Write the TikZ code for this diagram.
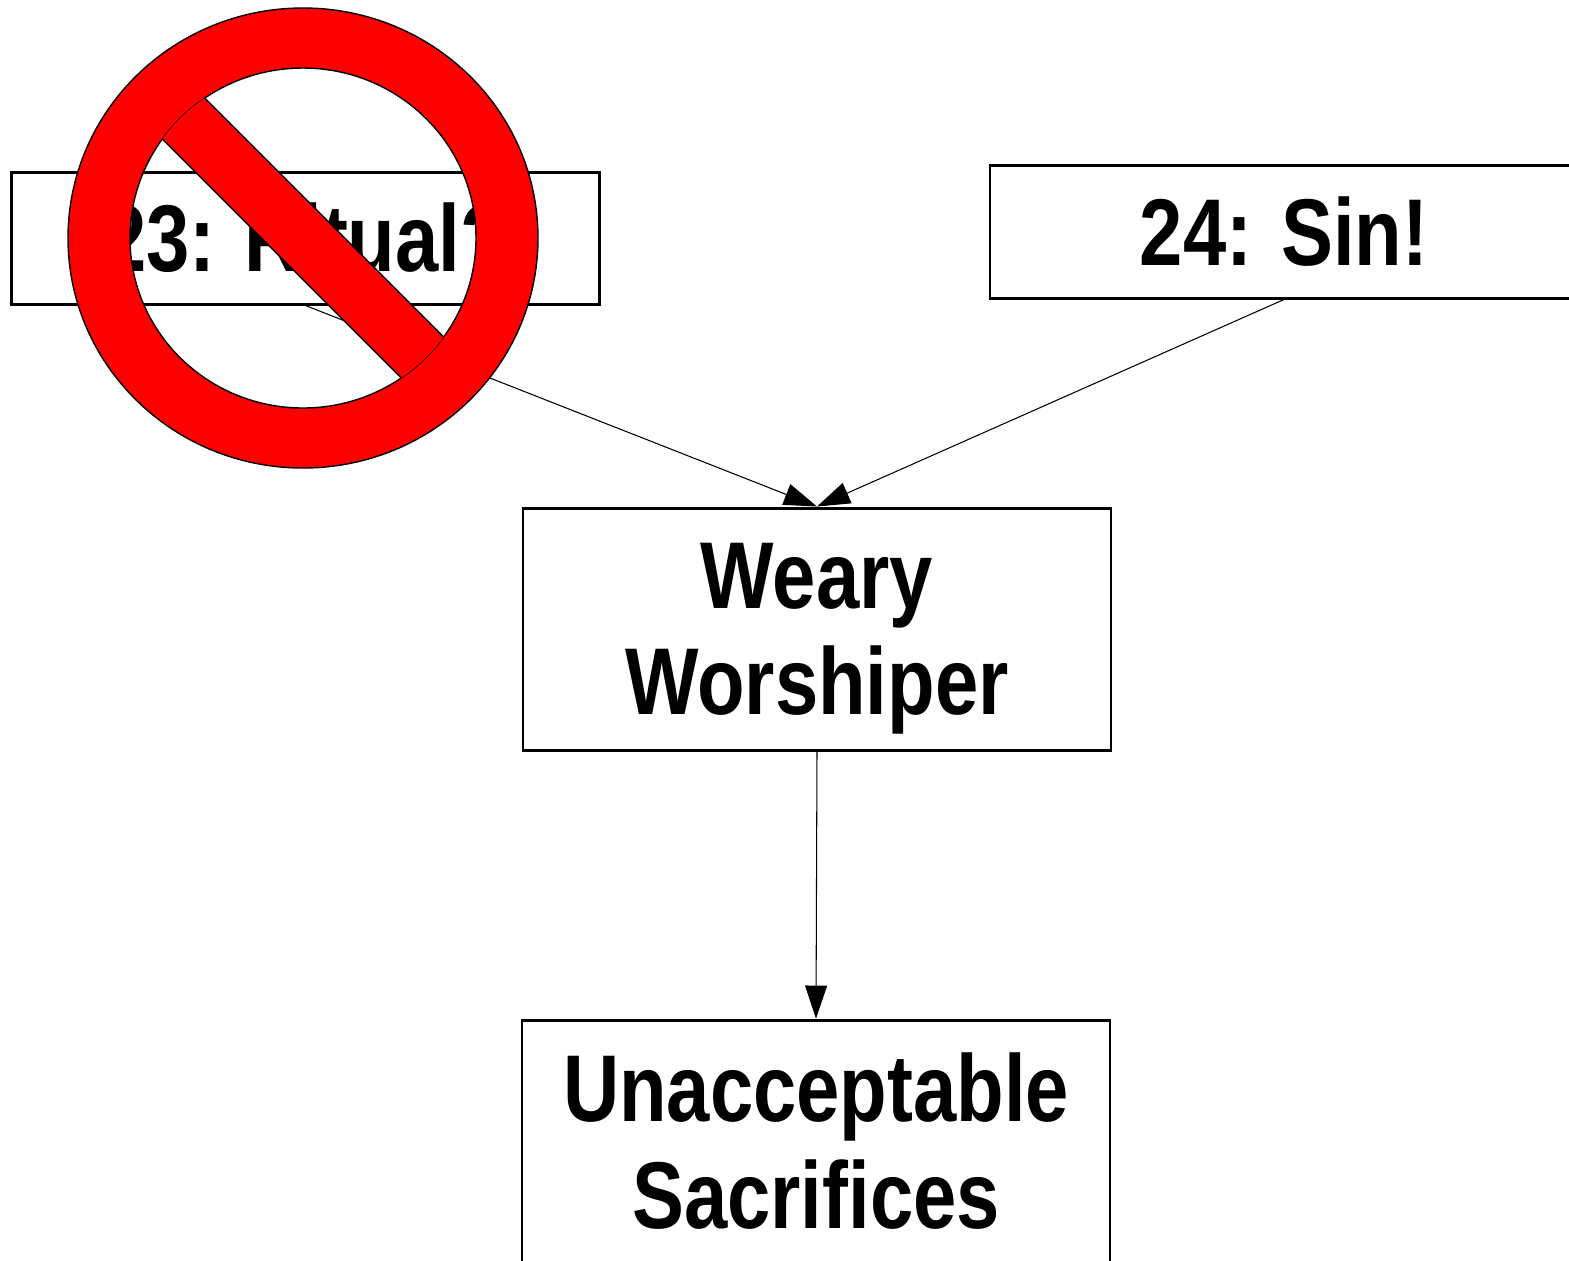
\documentclass[tikz,border=0pt]{standalone}
\usepackage{fontspec}
\newfontfamily\boxfont[FakeStretch=0.82]{Liberation Sans}
\usetikzlibrary{arrows.meta}
\begin{document}
\begin{tikzpicture}[
  box/.style={draw, line width=0.85pt, inner sep=0pt, minimum width=5.88cm,
    align=center, font=\boxfont\bfseries\fontsize{27}{30.2}\selectfont},
  link/.style={line width=0.3pt, -{Triangle[length=3.3mm,width=2.2mm]}}
]
\useasboundingbox (0,0) rectangle (15.69,-12.6);
\node [box, minimum height=1.32cm] (ritual) at (3.055,-2.38) {23: Ritual?};
\node [box, minimum height=1.33cm] (sin) at (12.84,-2.315) {24: Sin!};
\node [box, minimum height=2.42cm] (weary) at (8.17,-6.29)
  {Weary\\\raisebox{0pt}[\height][0pt]{Worshiper}};
\node [box, minimum height=2.42cm] (sacrifice) at (8.16,-11.41) {Unacceptable\\Sacrifices};
\draw [link] (ritual.south) -- (weary.north);
\draw [link] (sin.south) -- (weary.north);
\draw [link] (weary.south) -- (sacrifice.north);
% the "no" sign over the ritual box
\begin{scope}[shift={(3.03,-2.38)}]
\fill [red, even odd rule] (0,0) ellipse [x radius=2.35, y radius=2.30]
  (0,0) ellipse [x radius=1.73, y radius=1.70];
\draw [line width=0.4pt] (0,0) ellipse [x radius=2.35, y radius=2.30];
\draw [line width=0.4pt] (0,0) ellipse [x radius=1.73, y radius=1.70];
\begin{scope}
\clip (0,0) ellipse [x radius=1.73, y radius=1.70];
\fill [red, rotate=-45] (-2.5,-0.294) rectangle (2.5,0.294);
\draw [line width=0.4pt, rotate=-45] (-2.5,-0.294) -- (2.5,-0.294) (-2.5,0.294) -- (2.5,0.294);
\end{scope}
\end{scope}
\end{tikzpicture}
\end{document}
